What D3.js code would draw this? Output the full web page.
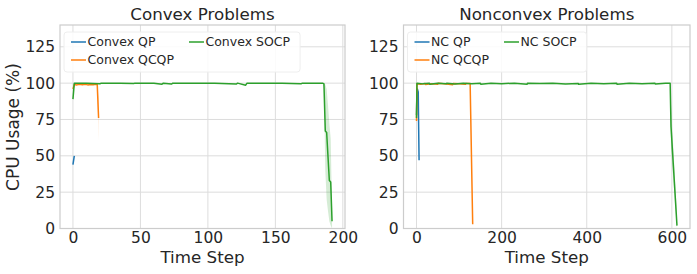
<!DOCTYPE html>
<html>
<head>
<meta charset="utf-8">
<script src="https://cdn.jsdelivr.net/npm/d3@7/dist/d3.min.js"></script>
<style>
  body { margin: 0; background: #fff; }
  text { font-family: "DejaVu Sans", sans-serif; }
</style>
</head>
<body>
<div id="chart"></div>
<script>
// ---- data ------------------------------------------------------------------
var yTicks = [0, 25, 50, 75, 100, 125];
var cvxXTicks = [0, 50, 100, 150, 200];
var ncXTicks = [0, 200, 400, 600];

// Convex problems
var cvxQpStep = [0, 1];
var cvxQpCpu = [44, 50];

var cvxQcqpStep = [0, 1, 3, 5, 7, 9, 11, 13, 15, 17, 18, 19];
var cvxQcqpCpu = [96, 99, 98.8, 99.2, 98.9, 99.3, 98.8, 99.1, 98.9, 99.2, 99, 76];
var cvxQcqpBandStep = [18, 19];
var cvxQcqpBandLo = [98.5, 61];
var cvxQcqpBandHi = [99.5, 90];

var cvxSocpStep = [0, 1, 10, 20, 21, 35, 45, 46, 60, 66, 67, 73, 74, 90, 105, 121, 122, 128, 129, 140, 155, 169, 170, 180, 185, 186, 187, 188, 190, 191, 192];
var cvxSocpCpu = [89, 100, 100, 99.6, 100, 100, 99.7, 100, 100, 99.3, 100, 99.4, 100, 100, 100, 99.4, 100, 98.6, 100, 100, 100, 99.5, 100, 100, 100, 99.5, 67, 66, 33, 32, 5];
var cvxSocpBandStep = [185, 186, 187, 188, 189, 190, 191, 192];
var cvxSocpBandLo = [100, 97, 40, 20, 12, 5, 2, 0];
var cvxSocpBandHi = [100, 100, 99, 96, 85, 72, 62, 12];

// Nonconvex problems
var ncQpStep = [0, 1, 2, 3, 4, 5, 6];
var ncQpCpu = [78, 95, 96, 95, 94, 70, 47];

var ncQcqpStep = [0, 1, 10, 20, 21, 35, 50, 51, 70, 85, 86, 100, 115, 116, 126, 132];
var ncQcqpCpu = [74, 99.6, 99.2, 99.8, 99.1, 99.6, 99.3, 99.9, 99.4, 98.9, 99.7, 99.5, 99.2, 99.8, 99.7, 3];

var ncSocpStep = [0, 1, 15, 30, 31, 50, 70, 71, 90, 110, 130, 150, 151, 175, 200, 230, 260, 261, 290, 320, 350, 380, 381, 410, 440, 470, 471, 500, 530, 560, 561, 585, 596, 598, 612];
var ncSocpCpu = [76, 100, 99.5, 100, 99.3, 100, 99.6, 100, 99.4, 100, 99.5, 100, 99.2, 100, 99.6, 100, 99.3, 100, 99.7, 100, 99.4, 99.8, 99.2, 100, 99.6, 100, 99.3, 100, 99.5, 100, 99.4, 100, 100, 70, 2];
var ncSocpBandStep = [596, 598, 612];
var ncSocpBandLo = [100, 55, 0];
var ncSocpBandHi = [100, 85, 9];

var seriesColors = ["#1f77b4", "#ff7f0e", "#2ca02c"];

// ---- layout -----------------------------------------------------------------
var W = 697, H = 274;
var plotTop = 25, plotBottom = 228.5;

var svg = d3.select("#chart").append("svg")
    .attr("width", W)
    .attr("height", H);

function zip(xs, ys) {
  return xs.map(function(x, i) { return { step: x, cpu: ys[i] }; });
}
function zipBand(xs, lo, hi) {
  return xs.map(function(x, i) { return { step: x, lo: lo[i], hi: hi[i] }; });
}

var panel = function(opts) {
  var g = svg.append("g");
  var allSteps = [].concat.apply([], opts.series.map(function(s) { return s.step; }));
  var ext = d3.extent(allSteps);
  var pad = (ext[1] - ext[0]) * 0.05;

  var x = d3.scaleLinear().domain([ext[0] - pad, ext[1] + pad]).range([opts.left, opts.right]);
  var y = d3.scaleLinear().domain([0, 140]).range([plotBottom, plotTop]);

  // grid
  g.selectAll(".gx").data(opts.xTicks).enter().append("line")
      .attr("x1", function(d) { return x(d); }).attr("x2", function(d) { return x(d); })
      .attr("y1", plotTop).attr("y2", plotBottom)
      .attr("stroke", "#dddddd").attr("stroke-width", 1);
  g.selectAll(".gy").data(yTicks).enter().append("line")
      .attr("y1", function(d) { return y(d); }).attr("y2", function(d) { return y(d); })
      .attr("x1", opts.left).attr("x2", opts.right)
      .attr("stroke", "#dddddd").attr("stroke-width", 1);

  // confidence bands
  var area = d3.area()
      .x(function(d) { return x(d.step); })
      .y0(function(d) { return y(d.lo); })
      .y1(function(d) { return y(d.hi); });
  opts.series.forEach(function(s, i) {
    if (s.band) {
      g.append("path")
          .datum(s.band)
          .attr("fill", seriesColors[i])
          .attr("fill-opacity", 0.2)
          .attr("d", area);
    }
  });

  // lines
  var line = d3.line()
      .x(function(d) { return x(d.step); })
      .y(function(d) { return y(d.cpu); });
  opts.series.forEach(function(s, i) {
    g.append("path")
        .datum(zip(s.step, s.cpu))
        .attr("fill", "none")
        .attr("stroke", seriesColors[i])
        .attr("stroke-width", 1.5)
        .attr("stroke-linejoin", "round")
        .attr("d", line);
  });

  // frame
  g.append("rect")
      .attr("x", opts.left).attr("y", plotTop)
      .attr("width", opts.right - opts.left).attr("height", plotBottom - plotTop)
      .attr("fill", "none").attr("stroke", "#cccccc").attr("stroke-width", 1.2);

  // axes (labels only, no tick marks)
  var xAxis = g.append("g")
      .attr("transform", "translate(0," + plotBottom + ")")
      .call(d3.axisBottom(x).tickValues(opts.xTicks).tickSize(0).tickPadding(3));
  var yAxis = g.append("g")
      .attr("transform", "translate(" + opts.left + ",0)")
      .call(d3.axisLeft(y).tickValues(yTicks).tickSize(0).tickPadding(5));
  [xAxis, yAxis].forEach(function(a) {
    a.select(".domain").remove();
    a.selectAll("text")
        .attr("fill", "#262626")
        .style("font-size", "15.5px")
        .style("font-family", "DejaVu Sans");
  });

  g.append("text")
      .attr("x", (opts.left + opts.right) / 2).attr("y", 20)
      .attr("text-anchor", "middle")
      .attr("fill", "#262626")
      .style("font-size", "16.7px")
      .text(opts.title);

  g.append("text")
      .attr("x", (opts.left + opts.right) / 2).attr("y", 263)
      .attr("text-anchor", "middle")
      .attr("fill", "#262626")
      .style("font-size", "16.7px")
      .text("Time Step");

  // legend, 2 columns: [QP, QCQP] | [SOCP]
  var leg = g.append("g");
  var box = leg.append("rect")
      .attr("x", opts.left + 4).attr("y", 32)
      .attr("height", 40).attr("rx", 3)
      .attr("fill", "#ffffff").attr("fill-opacity", 0.85)
      .attr("stroke", "#eeeeee");
  var hx = opts.left + 11, hLen = 15, fs = 12.5;
  var rows = [42, 60];
  var col1W = 0;
  [0, 1].forEach(function(i) {
    leg.append("line")
        .attr("x1", hx).attr("x2", hx + hLen)
        .attr("y1", rows[i]).attr("y2", rows[i])
        .attr("stroke", seriesColors[i]).attr("stroke-width", 1.5);
    var t = leg.append("text")
        .attr("x", hx + hLen + 1.5).attr("y", rows[i]).attr("dy", "0.35em")
        .attr("fill", "#262626")
        .style("font-size", fs + "px")
        .text(opts.series[i].name);
    col1W = Math.max(col1W, t.node().getComputedTextLength());
  });
  var hx2 = hx + hLen + 1.5 + col1W + 15;
  leg.append("line")
      .attr("x1", hx2).attr("x2", hx2 + hLen)
      .attr("y1", rows[0]).attr("y2", rows[0])
      .attr("stroke", seriesColors[2]).attr("stroke-width", 1.5);
  var t2 = leg.append("text")
      .attr("x", hx2 + hLen + 1.5).attr("y", rows[0]).attr("dy", "0.35em")
      .attr("fill", "#262626")
      .style("font-size", fs + "px")
      .text(opts.series[2].name);
  var endX = hx2 + hLen + 1.5 + t2.node().getComputedTextLength() + 10;
  box.attr("width", endX - (opts.left + 4));
};

panel({
  left: 60, right: 345,
  title: "Convex Problems",
  xTicks: cvxXTicks,
  series: [
    { name: "Convex QP", step: cvxQpStep, cpu: cvxQpCpu },
    { name: "Convex QCQP", step: cvxQcqpStep, cpu: cvxQcqpCpu,
      band: zipBand(cvxQcqpBandStep, cvxQcqpBandLo, cvxQcqpBandHi) },
    { name: "Convex SOCP", step: cvxSocpStep, cpu: cvxSocpCpu,
      band: zipBand(cvxSocpBandStep, cvxSocpBandLo, cvxSocpBandHi) }
  ]
});

panel({
  left: 403.5, right: 690,
  title: "Nonconvex Problems",
  xTicks: ncXTicks,
  series: [
    { name: "NC QP", step: ncQpStep, cpu: ncQpCpu },
    { name: "NC QCQP", step: ncQcqpStep, cpu: ncQcqpCpu },
    { name: "NC SOCP", step: ncSocpStep, cpu: ncSocpCpu,
      band: zipBand(ncSocpBandStep, ncSocpBandLo, ncSocpBandHi) }
  ]
});

// shared y label
svg.append("text")
    .attr("transform", "translate(19,127) rotate(-90)")
    .attr("text-anchor", "middle")
    .attr("fill", "#262626")
    .style("font-size", "17px")
    .text("CPU Usage (%)");
</script>
</body>
</html>
